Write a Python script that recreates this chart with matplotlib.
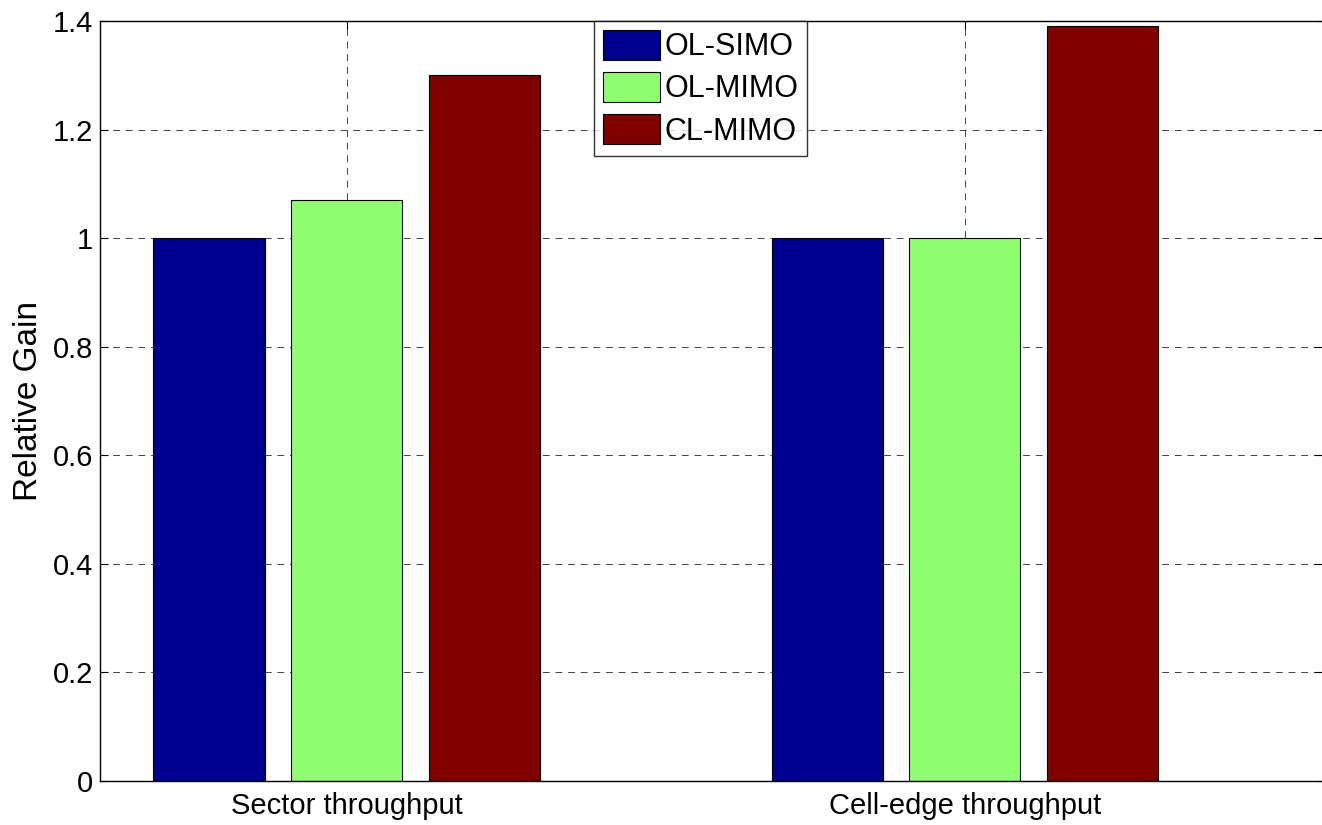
import matplotlib
matplotlib.use("Agg")
import matplotlib.pyplot as plt
import numpy as np

categories = ["Sector throughput", "Cell-edge throughput"]
series_names = ["OL-SIMO", "OL-MIMO", "CL-MIMO"]
ol_simo = [1.0, 1.0]
ol_mimo = [1.07, 1.0]
cl_mimo = [1.30, 1.39]
colors = ["#00008F", "#8FFF70", "#800000"]
yticks = [0, 0.2, 0.4, 0.6, 0.8, 1.0, 1.2, 1.4]
ytick_labels = ["0", "0.2", "0.4", "0.6", "0.8", "1", "1.2", "1.4"]

plt.rcParams['font.family'] = ['Liberation Sans', 'DejaVu Sans']

fig = plt.figure(figsize=(13.22, 8.25), dpi=100)
W, H = 1322, 825
left, right, top, bottom = 100, 1322, 21, 781
ax = fig.add_axes([left / W, 1 - bottom / H, (right - left) / W, (bottom - top) / H])

x = np.arange(1, len(categories) + 1)
width = 0.18
offset = 0.2225
for i, (vals, name, c) in enumerate(zip([ol_simo, ol_mimo, cl_mimo], series_names, colors)):
    ax.bar(x + (i - 1) * offset, vals, width, color=c, edgecolor="black",
           linewidth=0.8, label=name, zorder=2)

ax.set_xlim(0.601, 2.578)
ax.set_ylim(0, 1.4)
ax.set_xticks(x)
ax.set_xticklabels(categories, fontsize=21)
ax.set_yticks(yticks)
ax.set_yticklabels(ytick_labels, fontsize=21)
ax.set_ylabel("Relative Gain", fontsize=24, labelpad=6)
ax.tick_params(axis="both", direction="in", length=6, width=0.8, top=True, right=True)
ax.tick_params(axis="y", pad=5)
ax.tick_params(axis="x", pad=8)
ax.grid(True, linestyle=(0, (7, 6)), color="#444444", linewidth=0.7, zorder=0)
ax.set_axisbelow(True)
for s in ax.spines.values():
    s.set_linewidth(1.0)
ax.spines["right"].set_visible(False)

leg = ax.legend(loc="upper left", bbox_to_anchor=((594 - left) / (right - left), 1.0),
                fontsize=22, frameon=True, fancybox=False, edgecolor="black",
                handlelength=1.85, handleheight=1.1, handletextpad=0.15,
                labelspacing=0.33, borderpad=0.3, borderaxespad=0)
leg.get_frame().set_linewidth(1.0)

fig.savefig("out.png", dpi=100)
